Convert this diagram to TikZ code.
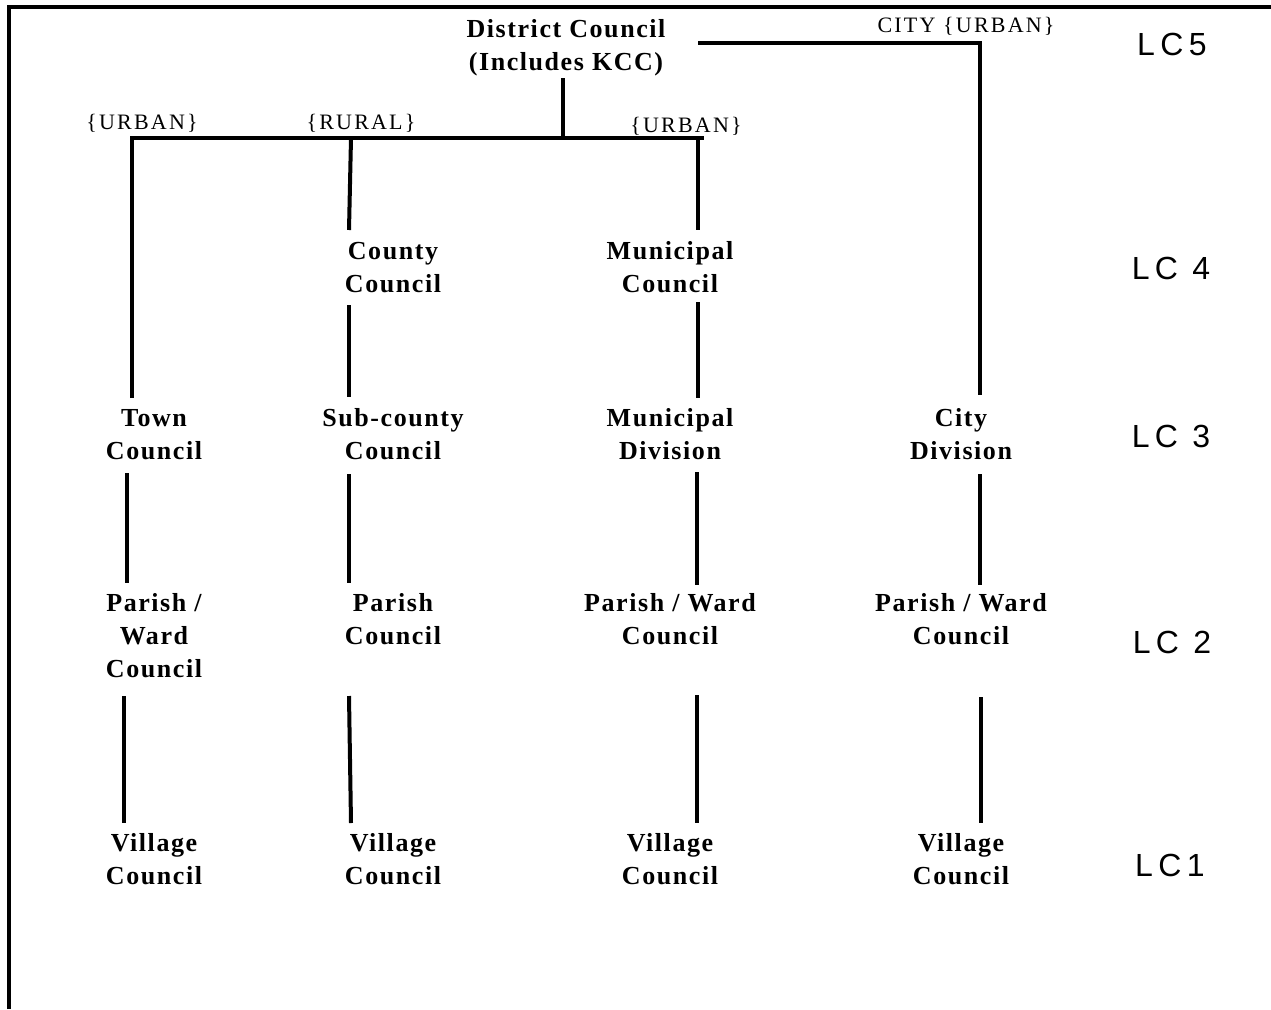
\documentclass[tikz,border=0pt]{standalone}
\usepackage{fontspec}
\setmainfont{Liberation Serif}
\newfontfamily\unitfont[LetterSpace=6]{Liberation Serif}
\newfontfamily\tagfont[LetterSpace=10]{Liberation Serif}
\newfontfamily\lcfont[LetterSpace=17]{Liberation Sans}
\newcommand\stk[1]{\begin{tabular}[t]{@{}c@{}}#1\end{tabular}}
\tikzset{
  unit/.style={font=\unitfont\bfseries\fontsize{26}{33}\selectfont, inner sep=0pt, anchor=base},
  tag/.style={font=\tagfont\fontsize{22}{24}\selectfont, inner sep=0pt, anchor=base},
  lc/.style={font=\lcfont\fontsize{32}{38}\selectfont, inner sep=0pt, anchor=base},
  link/.style={line width=4pt},
  frame/.style={line width=4pt}
}
\begin{document}
\begin{tikzpicture}[x=1pt,y=-1pt]
\useasboundingbox (0,0) rectangle (1271,1009);
% frame
\coordinate (fbl) at (9,1009);
\coordinate (ftl) at (9,7);
\coordinate (ftr) at (1271,7);
\draw[frame] (fbl) -- (ftl) -- (ftr);

% units
\node[unit] (dc) at (566,37) {\stk{District Council\\(Includes KCC)}};
\node[unit] (cc) at (393,259) {\stk{County\\Council}};
\node[unit] (mc) at (670,259) {\stk{Municipal\\Council}};
\node[unit] (tc) at (154,426) {\stk{Town\\Council}};
\node[unit] (sc) at (393,426) {\stk{Sub-county\\Council}};
\node[unit] (md) at (670,426) {\stk{Municipal\\Division}};
\node[unit] (cd) at (961,426) {\stk{City\\Division}};
\node[unit] (p1) at (154,611) {\stk{Parish /\\Ward\\Council}};
\node[unit] (p2) at (393,611) {\stk{Parish\\Council}};
\node[unit] (p3) at (670,611) {\stk{Parish / Ward\\Council}};
\node[unit] (p4) at (961,611) {\stk{Parish / Ward\\Council}};
\node[unit] (v1) at (154,851) {\stk{Village\\Council}};
\node[unit] (v2) at (393,851) {\stk{Village\\Council}};
\node[unit] (v3) at (670,851) {\stk{Village\\Council}};
\node[unit] (v4) at (961,851) {\stk{Village\\Council}};

% tags
\node[tag] (t1) at (142,129) {\{URBAN\}};
\node[tag] (t2) at (361,129) {\{RURAL\}};
\node[tag] (t3) at (686,132) {\{URBAN\}};
\node[tag] (t4) at (966,32) {CITY \{URBAN\}};

% level labels
\node[lc] (lc5) at (1172,55) {LC5};
\node[lc] (lc4) at (1171,279) {LC 4};
\node[lc] (lc3) at (1171,447) {LC 3};
\node[lc] (lc2) at (1172,653) {LC 2};
\node[lc] (lc1) at (1170,876) {LC1};

% connector points
\coordinate (dcs) at (563,78);
\coordinate (dcb) at (563,138);
\coordinate (bl) at (132,138);
\coordinate (br) at (704,138);
\coordinate (b2) at (351,138);
\coordinate (b3) at (698,138);
\coordinate (tct) at (132,398);
\coordinate (cct) at (349,230);
\coordinate (mct) at (698,230);
\coordinate (cy0) at (698,43);
\coordinate (cy1) at (980,43);
\coordinate (cdt) at (980,395);

\coordinate (tcb) at (127,473);
\coordinate (p1t) at (127,583);
\coordinate (p1b) at (124,696);
\coordinate (v1t) at (124,823);

\coordinate (ccb) at (349,305);
\coordinate (sct) at (349,397);
\coordinate (scb) at (349,474);
\coordinate (p2t) at (349,583);
\coordinate (p2b) at (349,696);
\coordinate (v2t) at (351,823);

\coordinate (mcb) at (698,302);
\coordinate (mdt) at (698,398);
\coordinate (mdb) at (697,472);
\coordinate (p3t) at (697,585);
\coordinate (p3b) at (697,695);
\coordinate (v3t) at (697,823);

\coordinate (cdb) at (980,474);
\coordinate (p4t) at (980,585);
\coordinate (p4b) at (981,697);
\coordinate (v4t) at (981,823);

% connectors
\draw[link] (dcs) -- (dcb);
\draw[link] (tct) -- (bl) -- (br);
\draw[link] (b2) -- (cct);
\draw[link] (b3) -- (mct);
\draw[link] (cy0) -- (cy1) -- (cdt);

\draw[link] (tcb) -- (p1t);
\draw[link] (p1b) -- (v1t);
\draw[link] (ccb) -- (sct);
\draw[link] (scb) -- (p2t);
\draw[link] (p2b) -- (v2t);
\draw[link] (mcb) -- (mdt);
\draw[link] (mdb) -- (p3t);
\draw[link] (p3b) -- (v3t);
\draw[link] (cdb) -- (p4t);
\draw[link] (p4b) -- (v4t);
\end{tikzpicture}
\end{document}
